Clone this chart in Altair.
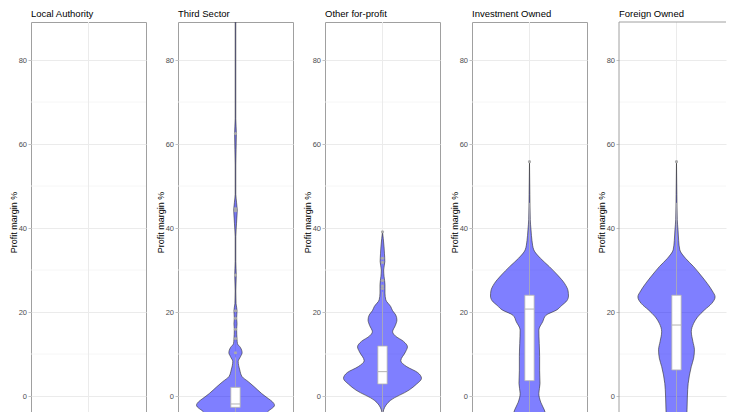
import altair as alt
import pandas as pd

sectors = ["Local Authority", "Third Sector", "Other for-profit", "Investment Owned", "Foreign Owned"]

# violin outlines: margin (%) and relative half-width (density, max = 1)
third_margin = [-6.3, -3.8, -2.2, -1.4, -0.6, 0.6, 2.2, 3.4, 4.6, 6.2, 8.2, 9.4, 10.3, 11.5, 12.5,
                13.5, 15.9, 17.2, 18.5, 20.3, 22.0, 25.0, 28.8, 32.0, 38.0, 44.3, 48.0, 55.0, 62.5,
                66.0, 75.0, 100.0]
third_density = [0.67, 0.82, 1.0, 0.95, 0.84, 0.67, 0.48, 0.33, 0.17, 0.11, 0.07, 0.13, 0.17, 0.13,
                 0.05, 0.04, 0.03, 0.04, 0.03, 0.04, 0.015, 0.008, 0.02, 0.008, 0.008, 0.046, 0.008,
                 0.008, 0.023, 0.008, 0.008, 0.008]

other_margin = [-5.0, -3.3, -1.0, 1.4, 2.8, 4.2, 5.6, 7.0, 8.4, 10.5, 11.7, 13.0, 14.3, 15.3, 16.8,
                18.1, 19.3, 20.3, 21.3, 22.9, 24.5, 26.5, 28.5, 30.0, 32.0, 34.0, 35.5, 37.5, 39.1]
other_density = [0.0, 0.03, 0.21, 0.68, 0.87, 1.0, 0.9, 0.62, 0.47, 0.59, 0.64, 0.54, 0.33, 0.26,
                 0.33, 0.37, 0.34, 0.26, 0.21, 0.085, 0.064, 0.064, 0.04, 0.03, 0.06, 0.05, 0.04,
                 0.02, 0.0]

invest_margin = [-6.3, -3.3, -1.5, 0.6, 3.0, 6.0, 9.4, 12.5, 15.7, 17.7, 19.2, 20.5, 21.5, 22.7,
                 23.8, 25.0, 26.8, 28.8, 30.8, 32.8, 34.8, 37.0, 39.5, 42.0, 48.0, 55.8]
invest_density = [0.46, 0.38, 0.29, 0.24, 0.27, 0.26, 0.26, 0.25, 0.24, 0.34, 0.42, 0.7, 0.82,
                  0.96, 1.0, 0.99, 0.9, 0.72, 0.51, 0.28, 0.11, 0.064, 0.04, 0.02, 0.01, 0.0]

foreign_margin = [-6.3, -3.3, 0.0, 3.0, 7.0, 9.0, 11.0, 13.0, 15.3, 17.3, 18.8, 20.5, 22.0, 23.6,
                  25.0, 26.8, 28.8, 30.8, 32.8, 34.8, 37.0, 39.5, 42.0, 48.0, 55.8]
foreign_density = [0.26, 0.27, 0.28, 0.3, 0.38, 0.44, 0.46, 0.42, 0.38, 0.44, 0.54, 0.72, 0.9, 0.99,
                   0.92, 0.79, 0.62, 0.44, 0.23, 0.085, 0.056, 0.04, 0.02, 0.01, 0.0]

# box plot statistics per sector (Third Sector, Other for-profit, Investment Owned, Foreign Owned)
box_lower = [-6.5, -4.0, -6.5, -6.5]
box_q1 = [-2.7, 2.86, 3.65, 6.2]
box_median = [-1.9, 5.8, 20.7, 16.9]
box_q3 = [2.06, 11.9, 24.0, 24.0]
box_upper = [9.2, 24.8, 46.0, 46.0]

third_outliers = [10.3, 13.7, 15.9, 18.5, 20.3, 28.8, 44.1, 44.6, 62.5]
other_outliers = [25.6, 26.2, 27.5, 31.8, 32.8, 39.1]
invest_outliers = [55.8]
foreign_outliers = [55.8]

minor_grid = [10, 30, 50, 70]
major_ticks = [0, 20, 40, 60, 80]

violins = {
    "Third Sector": (third_margin, third_density, third_outliers),
    "Other for-profit": (other_margin, other_density, other_outliers),
    "Investment Owned": (invest_margin, invest_density, invest_outliers),
    "Foreign Owned": (foreign_margin, foreign_density, foreign_outliers),
}

FONT = "Liberation Sans"
Y_TOP = 89.05
Y_BOTTOM = -6.19
X_HALF = 1.474            # half panel width in density units
PX_PER_DENSITY = 39.0
PANEL_W = 115
LAST_W = 107              # last panel is cut at the right edge of the picture
PANEL_H = 400
GREY = "#a0a0a0"

yscale = alt.Scale(domain=[Y_BOTTOM, Y_TOP], nice=False, zero=False)
yaxis = alt.Axis(values=major_ticks, title="Profit margin %", grid=True, gridColor="#ebebeb",
                 gridWidth=1, tickColor="#b3b3b3", tickSize=3, tickWidth=0.8,
                 labelColor="#4d4d4d", labelFontSize=7.5, labelPadding=1.5, labelFont=FONT,
                 domain=False, titleFontSize=9, titleFontWeight="normal", titleColor="black",
                 titlePadding=1, titleFont=FONT, minExtent=12, maxExtent=12)
BOX = 0.12
BOX_GREY = "#b3b3b3"


def panel(name, width):
    xmax = -X_HALF + width / PX_PER_DENSITY
    xscale = alt.Scale(domain=[-X_HALF, xmax], nice=False, zero=False)
    layers = []
    layers.append(
        alt.Chart(pd.DataFrame({"m": minor_grid}))
        .mark_rule(color="#f4f4f4", strokeWidth=0.8)
        .encode(y=alt.Y("m:Q", scale=yscale, axis=yaxis))
    )
    layers.append(
        alt.Chart(pd.DataFrame({"c": [0]}))
        .mark_rule(color="#ebebeb", strokeWidth=1)
        .encode(x=alt.X("c:Q", scale=xscale, axis=None))
    )
    if name in violins:
        margin, dens, outl = violins[name]
        k = sectors.index(name) - 1
        vdf = pd.DataFrame({"margin": margin, "left": [-d for d in dens], "right": dens})
        layers.append(
            alt.Chart(vdf)
            .mark_area(orient="horizontal", interpolate="monotone", fill="#0000ff",
                       fillOpacity=0.5, stroke="#2b2b2b", strokeWidth=0.6, clip=True)
            .encode(y=alt.Y("margin:Q", scale=yscale, axis=yaxis),
                    x=alt.X("left:Q", scale=xscale, axis=None, stack=None),
                    x2=alt.X2("right:Q"))
        )
        bdf = pd.DataFrame({"lo": [box_lower[k]], "q1": [box_q1[k]], "med": [box_median[k]],
                            "q3": [box_q3[k]], "hi": [box_upper[k]], "c": [0.0],
                            "bl": [-BOX], "br": [BOX]})
        base = alt.Chart(bdf)
        layers.append(base.mark_rule(color=BOX_GREY, strokeWidth=0.8, clip=True).encode(
            x=alt.X("c:Q", scale=xscale, axis=None),
            y=alt.Y("lo:Q", scale=yscale, axis=yaxis), y2="q1:Q"))
        layers.append(base.mark_rule(color=BOX_GREY, strokeWidth=0.8, clip=True).encode(
            x=alt.X("c:Q", scale=xscale, axis=None),
            y=alt.Y("q3:Q", scale=yscale, axis=yaxis), y2="hi:Q"))
        layers.append(base.mark_rect(fill="white", stroke=BOX_GREY, strokeWidth=0.8, clip=True).encode(
            x=alt.X("bl:Q", scale=xscale, axis=None), x2="br:Q",
            y=alt.Y("q1:Q", scale=yscale, axis=yaxis), y2="q3:Q"))
        layers.append(base.mark_rule(color=BOX_GREY, strokeWidth=1, clip=True).encode(
            x=alt.X("bl:Q", scale=xscale, axis=None), x2="br:Q",
            y=alt.Y("med:Q", scale=yscale, axis=yaxis)))
        layers.append(
            alt.Chart(pd.DataFrame({"o": outl, "c": [0.0] * len(outl)}))
            .mark_circle(color="#aaaaaa", size=10, opacity=1, clip=True)
            .encode(x=alt.X("c:Q", scale=xscale, axis=None),
                    y=alt.Y("o:Q", scale=yscale, axis=yaxis))
        )
    props = dict(
        width=width, height=PANEL_H,
        title=alt.TitleParams(name, anchor="start", frame="group", fontSize=9.5,
                              fontWeight="normal", color="black", font=FONT, offset=3),
    )
    if width != PANEL_W:
        # cut panel: draw only its top and left border
        frame = alt.Chart(pd.DataFrame({"t": [Y_TOP], "l": [-X_HALF]}))
        layers.append(frame.mark_rule(color=GREY, strokeWidth=1).encode(
            y=alt.Y("t:Q", scale=yscale, axis=yaxis)))
        layers.append(frame.mark_rule(color=GREY, strokeWidth=1).encode(
            x=alt.X("l:Q", scale=xscale, axis=None)))
        props["view"] = alt.ViewBackground(stroke=None)
    return alt.layer(*layers).properties(**props)


panels = [panel(s, PANEL_W) for s in sectors[:-1]] + [panel(sectors[-1], LAST_W)]

chart = (
    alt.hconcat(*panels, spacing=32, bounds="flush")
    .properties(padding=0)
    .configure(font=FONT)
    .configure_view(stroke=GREY, strokeWidth=1)
)

chart.save("out.html", embed_options={"renderer": "svg", "actions": False})
